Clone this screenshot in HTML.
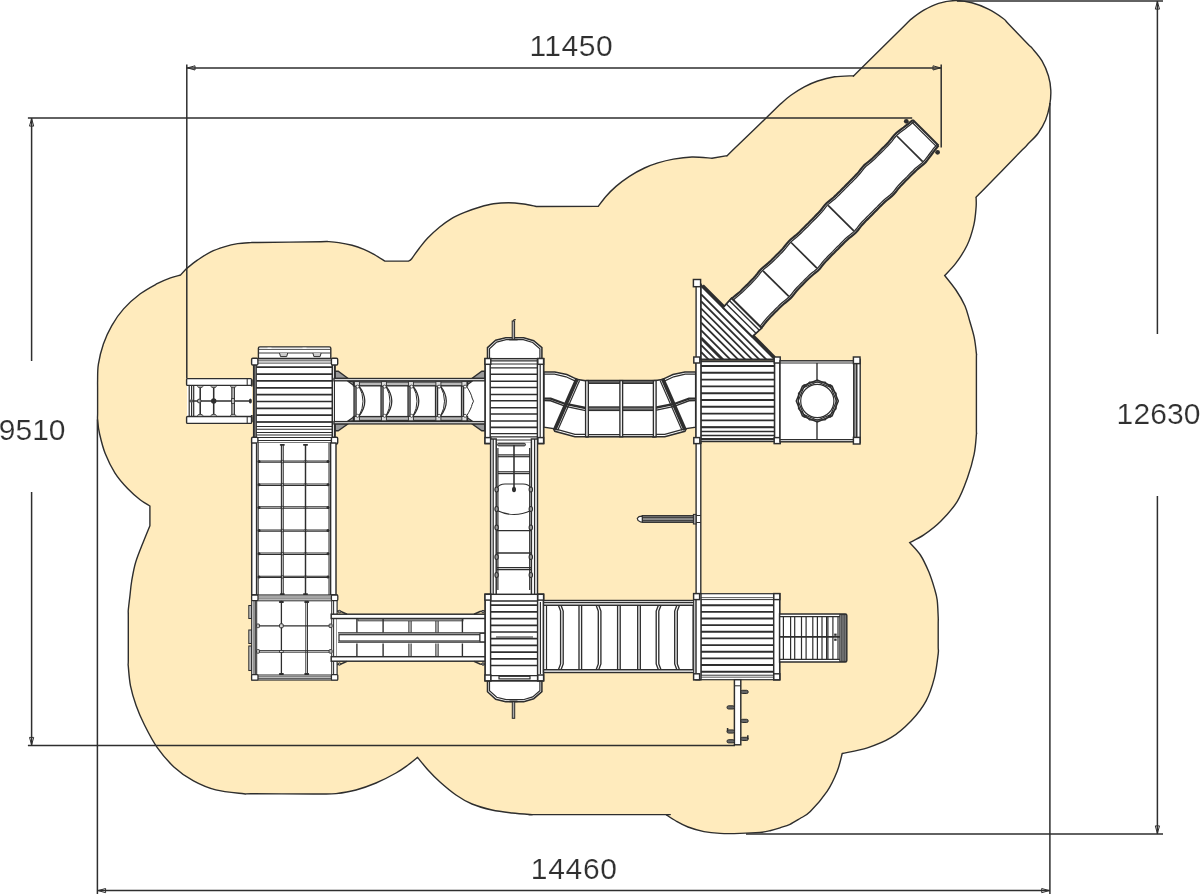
<!DOCTYPE html>
<html lang="en">
<head>
<meta charset="utf-8">
<title>Playground plan</title>
<style>
html,body{margin:0;padding:0;background:#fff;overflow:hidden;}
body{width:1200px;height:894px;overflow:hidden;position:relative;font-family:"Liberation Sans",sans-serif;}
svg{position:absolute;left:0;top:0;display:block;}
.dim{position:absolute;font-family:"Liberation Sans",sans-serif;font-size:30px;line-height:1;color:#2e2e2e;white-space:nowrap;-webkit-text-stroke:0.2px #fff;paint-order:fill stroke;opacity:0.99;transform:translateZ(0);}
</style>
</head>
<body>
<svg width="1200" height="894" viewBox="0 0 1200 894" shape-rendering="geometricPrecision">
<path d="M149.9 506.1C148.3 505 143.8 502.6 140.1 499.7C136.4 496.8 131.8 492.9 127.6 488.5C123.4 484.1 118.7 478.9 115 473.1C111.3 467.3 107.8 460 105.2 453.5C102.6 447 100.9 439.6 99.6 434C98.3 428.4 97.9 423.5 97.6 420C97.3 416.5 97.6 418.4 97.6 413C97.6 407.6 97.6 393.2 97.6 387.8C97.6 382.4 97.5 384.7 97.6 380.8C97.7 376.9 97.4 370.3 98.4 364.2C99.4 358.1 101.2 350.5 103.4 344.1C105.6 337.7 108.4 331.5 111.8 325.6C115.2 319.7 118.8 314.2 123.6 308.9C128.3 303.6 134.7 298 140.3 293.8C145.9 289.6 152.1 286.4 157.1 283.7C162.1 281 166.6 279.2 170.5 277.8C174.4 276.4 178.9 275.5 180.6 275L186.5 268.6C188.3 267.2 193.3 263 197.4 260.2C201.5 257.4 206.3 254 210.8 251.8C215.3 249.6 219.7 248.2 224.2 246.8C228.7 245.4 233.2 244.3 237.7 243.6C242.2 242.9 247.6 242.8 251 242.6C254.4 242.4 246.4 242.7 258 242.5C269.6 242.4 309.2 241.8 320.8 241.7C332.4 241.5 324.8 241.4 327.8 241.6C330.8 241.8 334.6 242 338.7 242.6C342.8 243.2 347.9 244.2 352.1 245.3C356.3 246.4 360.2 247.8 363.9 249.3C367.5 250.8 370.5 252.4 374 254.4C377.5 256.4 383.1 260 384.9 261.1L408.4 261.1C408.9 260.7 409.9 260.9 411.7 258.7C413.5 256.5 416.6 251.6 419.3 248.2C422 244.8 424.4 241.6 427.7 238.1C431 234.6 435.5 230.4 439.4 227.2C443.3 224 446.9 221.3 451.1 218.8C455.3 216.3 459.8 214.4 464.6 212.4C469.4 210.4 475.3 208.4 480.1 207C484.9 205.6 488.8 204.5 493.5 203.8C498.2 203.1 503.6 202.7 508.6 202.7C513.6 202.7 519.1 203.4 523.7 204C528.3 204.6 534.2 206.1 536.3 206.5L598.4 206.2C599.6 204.6 603 199.8 605.9 196.5C608.8 193.2 612.1 189.8 616 186.4C619.9 183 624.6 179.4 629.4 176.3C634.1 173.2 639.8 170.2 644.5 168C649.2 165.8 653.1 164.4 657.9 162.9C662.7 161.4 667.7 160.1 673.4 159.1C679.1 158.1 685.5 157.2 691.9 157C698.3 156.8 708.6 158 712 158.2L727.1 155.7C727.9 154.9 724 158.7 732.1 150.8C740.2 143 767.7 116.4 775.8 108.6C783.9 100.7 778.3 105.9 780.8 103.7C783.3 101.5 787 98.1 790.9 95.3C794.8 92.5 799.8 89.3 804.3 86.9C808.8 84.5 812.7 82.7 817.7 81C822.7 79.3 828.5 77.7 834.5 76.8C840.5 75.9 850.6 75.9 853.8 75.7C854.6 74.9 850.1 79.3 858.8 70.8C867.5 62.2 897.2 32.9 905.9 24.3C914.6 15.8 907.9 21.8 910.9 19.4C913.9 17 919.2 12.9 923.8 10.2C928.4 7.5 933.4 4.9 938.6 3.3C943.8 1.7 949.7 0.7 955.2 0.6C960.7 0.5 966.3 1.4 971.8 2.8C977.3 4.2 983.2 6.6 988.4 9.2C993.6 11.8 999.9 16.1 1003.2 18.5C1006.5 20.9 1004 19.3 1008.1 23.5C1012.2 27.8 1023.7 39.6 1027.8 43.9C1031.9 48.1 1030.3 46.1 1032.7 48.9C1035.1 51.7 1039.4 56.4 1042 60.9C1044.6 65.4 1046.9 70.8 1048.4 75.7C1049.9 80.6 1050.6 85.5 1050.8 90.4C1051 95.3 1050.6 100.3 1049.7 105.2C1048.8 110.1 1047.5 115.4 1045.6 120C1043.7 124.6 1041.3 128.9 1038.3 133C1035.3 137.1 1030.1 141.8 1027.5 144.6C1024.9 147.4 1030.4 141.7 1022.6 149.6C1014.9 157.5 988.7 184.3 981 192.2C973.2 200.1 976.9 196.4 976.1 197.2C976.1 198.9 976.5 202.5 976.1 207.2C975.7 211.8 975.3 218.8 973.8 225.1C972.3 231.4 970.1 239 967.1 245.3C964.1 251.7 959.6 258.2 955.9 263.2C952.2 268.2 946.6 273.4 944.7 275.5C946.6 277.9 952.5 285 955.9 290C959.3 295 962.6 300.7 964.9 305.7C967.1 310.7 967.9 314.8 969.4 320C970.9 325.2 972.9 331.3 974.1 336.9C975.3 342.5 976 349.7 976.4 353.7C976.8 357.7 976.4 348.4 976.4 360.7C976.4 372.9 976.4 414.9 976.4 427.2C976.4 439.4 976.8 429.7 976.4 434.2C976 438.7 975.6 447.1 974.1 454.4C972.6 461.7 970.2 470.1 967.4 477.9C964.6 485.7 961.8 494 957.3 501.3C952.8 508.6 946.1 515.9 940.5 521.5C934.9 527.1 928.9 531.4 923.8 534.9C918.7 538.4 912.1 541.3 909.7 542.6C911.5 544.7 917.2 550.1 920.4 555C923.6 559.9 926.4 566.2 928.8 571.8C931.1 577.4 933.1 583.9 934.5 588.6C935.9 593.3 936.6 595.4 937.2 600.1C937.8 604.8 938 612.9 938.2 616.9C938.4 620.9 938.2 618.9 938.2 623.9C938.2 628.9 938.2 641.8 938.2 646.8C938.2 651.8 938.8 648.7 938.2 653.8C937.6 658.9 936.5 669.5 934.5 677.3C932.5 685.1 930 693.5 926.1 700.8C922.2 708.1 916.9 714.8 911 720.9C905.1 727 898.2 733.2 890.9 737.7C883.6 742.2 875.5 745.2 867.4 747.8C859.3 750.4 846.4 752.5 842.2 753.5C841.4 756.5 839.7 765 837.2 771.3C834.7 777.6 831.6 784.7 827.1 791.4C822.6 798.1 814.8 807 810.3 811.5C805.8 816 803.4 816.4 800 818.5C796.6 820.6 793.3 822.8 790 824.3C786.7 825.8 783.3 826.7 780 827.8C776.7 828.9 773.3 829.9 770 830.7C766.7 831.5 765 832 760 832.4C755 832.8 746.7 833.2 740 833.4C733.3 833.6 726 833.7 720 833.4C714 833.1 709.3 832.7 704 831.6C698.7 830.5 692.7 828.8 688 827C683.3 825.2 679.7 823.1 676 821C672.3 818.9 667.7 815.7 666 814.6C664.8 814.6 680.2 814.6 659 814.6C637.8 814.6 560.2 814.6 539 814.6C517.8 814.6 536.5 814.9 532 814.6C527.5 814.3 518.7 813.8 512 813C505.3 812.2 498.7 811.5 492 810C485.3 808.5 478 806.5 472 804C466 801.5 461.3 798.7 456 795C450.7 791.3 444.7 786.2 440 782C435.3 777.8 431.7 774.1 428 770C424.3 765.9 419.3 759.5 417.6 757.4C416 758.7 411.6 762.4 408 765C404.4 767.6 401.3 770 396 773C390.7 776 382.7 780.2 376 783C369.3 785.8 362.7 788.2 356 790C349.3 791.8 342 792.9 336 793.6C330 794.3 323.8 793.9 320 794C316.2 794.1 324.5 794 313 794C301.5 794 262.3 793.8 250.8 793.8C239.3 793.8 249.6 794.5 243.8 793.8C238 793.1 224.2 792 215.8 789.9C207.4 787.8 200.5 784.7 193.5 780.9C186.5 777.1 180 772.5 173.9 766.9C167.8 761.3 162 754.4 157.1 747.4C152.2 740.4 148 732 144.5 725C141 718 138.4 711.9 136.1 705.4C133.8 698.9 131.8 692.3 130.5 685.8C129.2 679.3 128.7 670.7 128.3 666.3C127.9 661.9 128.3 667.5 128.3 659.3C128.3 651.1 128.3 625.2 128.3 617C128.3 608.8 128.1 613.3 128.3 610C128.6 606.7 129.2 601.8 129.8 597C130.4 592.2 130.7 586.8 131.7 581C132.7 575.2 133.7 568.8 135.6 562.5C137.5 556.2 140.5 549.1 142.9 543C145.3 536.9 148.7 528.6 149.9 525.7L149.9 506.1Z" fill="#FFEBBD" stroke="#2e2e2e" stroke-width="1.4" stroke-linejoin="miter"/>
<rect x="187" y="386" width="65" height="31" fill="#fff" stroke="#2e2e2e" stroke-width="0.0"/>
<rect x="186.6" y="378.6" width="65" height="6.8" rx="1" fill="#fff" stroke="#2e2e2e" stroke-width="1.4"/>
<rect x="186.6" y="416.5" width="65" height="6.9" rx="1" fill="#fff" stroke="#2e2e2e" stroke-width="1.4"/>
<line x1="247.2" y1="379" x2="247.2" y2="385" stroke="#2e2e2e" stroke-width="1.03"/>
<line x1="247.2" y1="417" x2="247.2" y2="423" stroke="#2e2e2e" stroke-width="1.03"/>
<line x1="189.2" y1="385.5" x2="189.2" y2="416.5" stroke="#2e2e2e" stroke-width="1.2"/>
<line x1="191.6" y1="385.5" x2="191.6" y2="416.5" stroke="#2e2e2e" stroke-width="1.2"/>
<line x1="193.7" y1="385.5" x2="193.7" y2="416.5" stroke="#2e2e2e" stroke-width="1.2"/>
<line x1="200.2" y1="385.5" x2="200.2" y2="416.5" stroke="#2e2e2e" stroke-width="1.55"/>
<line x1="213.7" y1="385.5" x2="213.7" y2="416.5" stroke="#2e2e2e" stroke-width="1.55"/>
<line x1="231.9" y1="385.5" x2="231.9" y2="416.5" stroke="#2e2e2e" stroke-width="1.29"/>
<line x1="234.3" y1="385.5" x2="234.3" y2="416.5" stroke="#2e2e2e" stroke-width="1.29"/>
<line x1="189" y1="401" x2="250" y2="401" stroke="#2e2e2e" stroke-width="1.46"/>
<circle cx="191.4" cy="401" r="1.8" fill="#555"/>
<circle cx="199.2" cy="401" r="1.9" fill="#aaa" stroke="#2e2e2e" stroke-width="0.9"/>
<circle cx="213.7" cy="401" r="2.7" fill="#2e2e2e"/>
<rect x="231.6" y="398.6" width="3" height="4.8" fill="#bbb" stroke="#2e2e2e" stroke-width="0.8"/>
<ellipse cx="250.4" cy="401" rx="1.5" ry="2.5" fill="#2e2e2e"/>
<ellipse cx="200.2" cy="386.6" rx="2.6" ry="1.1" fill="#bbb" stroke="#2e2e2e" stroke-width="0.8"/>
<ellipse cx="200.2" cy="415.4" rx="2.6" ry="1.1" fill="#bbb" stroke="#2e2e2e" stroke-width="0.8"/>
<ellipse cx="213.7" cy="386.6" rx="2.6" ry="1.1" fill="#bbb" stroke="#2e2e2e" stroke-width="0.8"/>
<ellipse cx="213.7" cy="415.4" rx="2.6" ry="1.1" fill="#bbb" stroke="#2e2e2e" stroke-width="0.8"/>
<ellipse cx="233.2" cy="386.6" rx="2.6" ry="1.1" fill="#bbb" stroke="#2e2e2e" stroke-width="0.8"/>
<ellipse cx="233.2" cy="415.4" rx="2.6" ry="1.1" fill="#bbb" stroke="#2e2e2e" stroke-width="0.8"/>
<line x1="251.8" y1="379.5" x2="251.8" y2="386.5" stroke="#2e2e2e" stroke-width="1.72"/>
<line x1="251.8" y1="415" x2="251.8" y2="422" stroke="#2e2e2e" stroke-width="1.72"/>
<path d="M258.4 358.5 V348.3 Q258.4 346.9 259.8 346.9 H329.4 Q330.8 346.9 330.8 348.3 V358.5 Z" fill="#fff" stroke="#2e2e2e" stroke-width="1.4"/>
<line x1="258.5" y1="349.4" x2="330.5" y2="349.4" stroke="#2e2e2e" stroke-width="0.86"/>
<line x1="258.5" y1="353" x2="330.5" y2="353" stroke="#2e2e2e" stroke-width="0.95"/>
<line x1="267.5" y1="348.3" x2="271.5" y2="348.3" stroke="#fff" stroke-width="1.2"/>
<line x1="302.5" y1="348.3" x2="306.5" y2="348.3" stroke="#fff" stroke-width="1.2"/>
<path d="M279.5 353 l1 3.6 h6.2 l1 -3.6" fill="#ccc" stroke="#2e2e2e" stroke-width="1.0"/>
<path d="M312.9 353 l1 3.6 h6.2 l1 -3.6" fill="#ccc" stroke="#2e2e2e" stroke-width="1.0"/>
<rect x="254" y="358.7" width="81" height="84.4" fill="#fff" stroke="#2e2e2e" stroke-width="1.46"/>
<line x1="253.7" y1="364" x2="253.7" y2="438" stroke="#2e2e2e" stroke-width="1.55"/>
<line x1="256.1" y1="364" x2="256.1" y2="438" stroke="#2e2e2e" stroke-width="1.55"/>
<line x1="332.3" y1="364" x2="332.3" y2="438" stroke="#2e2e2e" stroke-width="1.55"/>
<line x1="334.7" y1="364" x2="334.7" y2="438" stroke="#2e2e2e" stroke-width="1.55"/>
<line x1="257" y1="360.8" x2="332" y2="360.8" stroke="#2e2e2e" stroke-width="0.86"/>
<line x1="257" y1="363.1" x2="332" y2="363.1" stroke="#2e2e2e" stroke-width="0.86"/>
<line x1="256.3" y1="367.2" x2="332.3" y2="367.2" stroke="#2e2e2e" stroke-width="1.72"/>
<line x1="256.3" y1="374.1" x2="332.3" y2="374.1" stroke="#2e2e2e" stroke-width="1.72"/>
<line x1="256.3" y1="380.9" x2="332.3" y2="380.9" stroke="#2e2e2e" stroke-width="1.72"/>
<line x1="256.3" y1="387.8" x2="332.3" y2="387.8" stroke="#2e2e2e" stroke-width="1.72"/>
<line x1="256.3" y1="394.6" x2="332.3" y2="394.6" stroke="#2e2e2e" stroke-width="1.72"/>
<line x1="256.3" y1="401.5" x2="332.3" y2="401.5" stroke="#2e2e2e" stroke-width="1.72"/>
<line x1="256.3" y1="408.3" x2="332.3" y2="408.3" stroke="#2e2e2e" stroke-width="1.72"/>
<line x1="256.3" y1="415.2" x2="332.3" y2="415.2" stroke="#2e2e2e" stroke-width="1.72"/>
<line x1="256.3" y1="422" x2="332.3" y2="422" stroke="#2e2e2e" stroke-width="1.72"/>
<line x1="256.3" y1="422" x2="332.3" y2="422" stroke="#2e2e2e" stroke-width="1.03"/>
<line x1="256.3" y1="426.6" x2="332.3" y2="426.6" stroke="#2e2e2e" stroke-width="1.03"/>
<line x1="256.3" y1="429.2" x2="332.3" y2="429.2" stroke="#2e2e2e" stroke-width="1.03"/>
<line x1="256.3" y1="432.4" x2="332.3" y2="432.4" stroke="#2e2e2e" stroke-width="1.03"/>
<line x1="256.3" y1="435" x2="332.3" y2="435" stroke="#2e2e2e" stroke-width="1.03"/>
<line x1="256.3" y1="437.6" x2="332.3" y2="437.6" stroke="#2e2e2e" stroke-width="1.03"/>
<line x1="256.3" y1="440.6" x2="332.3" y2="440.6" stroke="#2e2e2e" stroke-width="1.03"/>
<rect x="251.6" y="358.2" width="6.3" height="6.8" rx="1.2" fill="#fff" stroke="#2e2e2e" stroke-width="1.4"/>
<rect x="331.4" y="358.2" width="6.3" height="6.8" rx="1.2" fill="#fff" stroke="#2e2e2e" stroke-width="1.4"/>
<rect x="251.6" y="437.2" width="6.3" height="6.8" rx="1.2" fill="#fff" stroke="#2e2e2e" stroke-width="1.4"/>
<rect x="331.4" y="437.2" width="6.3" height="6.8" rx="1.2" fill="#fff" stroke="#2e2e2e" stroke-width="1.4"/>
<rect x="335" y="379" width="150" height="44" fill="#fff" stroke="#2e2e2e" stroke-width="0.0"/>
<polygon points="335.2,371.3 338.2,371.3 348.2,378.5 335.2,378.5" fill="#9a9a9a" stroke="#2e2e2e" stroke-width="1.38" />
<polygon points="335.2,430.8 338.2,430.8 348.2,423.8 335.2,423.8" fill="#9a9a9a" stroke="#2e2e2e" stroke-width="1.38" />
<polygon points="347.2,380.8 354.2,385.8 354.2,381.9" fill="#9a9a9a" stroke="#2e2e2e" stroke-width="1.2" />
<polygon points="347.2,421.6 354.2,416.6 354.2,420.5" fill="#9a9a9a" stroke="#2e2e2e" stroke-width="1.2" />
<polygon points="484.8,371.3 481.8,371.3 471.8,378.5 484.8,378.5" fill="#9a9a9a" stroke="#2e2e2e" stroke-width="1.38" />
<polygon points="484.8,430.8 481.8,430.8 471.8,423.8 484.8,423.8" fill="#9a9a9a" stroke="#2e2e2e" stroke-width="1.38" />
<polygon points="472.8,380.8 465.8,385.8 465.8,381.9" fill="#9a9a9a" stroke="#2e2e2e" stroke-width="1.2" />
<polygon points="472.8,421.6 465.8,416.6 465.8,420.5" fill="#9a9a9a" stroke="#2e2e2e" stroke-width="1.2" />
<rect x="334" y="378.5" width="151.5" height="2.3" fill="#fff" stroke="#2e2e2e" stroke-width="1.38"/>
<rect x="334" y="421.6" width="151.5" height="2.3" fill="#fff" stroke="#2e2e2e" stroke-width="1.38"/>
<rect x="353.5" y="381.9" width="114" height="3.9" fill="#b8b8b8" stroke="#2e2e2e" stroke-width="1.38"/>
<rect x="353.5" y="416.6" width="114" height="3.9" fill="#b8b8b8" stroke="#2e2e2e" stroke-width="1.38"/>
<line x1="354.1" y1="385.8" x2="354.1" y2="416.6" stroke="#2e2e2e" stroke-width="1.46"/>
<line x1="356" y1="385.8" x2="356" y2="416.6" stroke="#2e2e2e" stroke-width="1.46"/>
<path d="M359 386.2 Q370.6 401.2 359 416.2" fill="none" stroke="#2e2e2e" stroke-width="1.25"/>
<path d="M359 386.2 Q367 401.2 359 416.2" fill="none" stroke="#2e2e2e" stroke-width="1.0"/>
<rect x="354.4" y="381.6" width="5" height="4.4" fill="#ddd" stroke="#2e2e2e" stroke-width="0.9"/>
<rect x="354.4" y="416.4" width="5" height="4.4" fill="#ddd" stroke="#2e2e2e" stroke-width="0.9"/>
<circle cx="357.6" cy="386.6" r="1.5" fill="#fff" stroke="#2e2e2e" stroke-width="0.8"/>
<circle cx="357.6" cy="415.8" r="1.5" fill="#fff" stroke="#2e2e2e" stroke-width="0.8"/>
<line x1="381.1" y1="385.8" x2="381.1" y2="416.6" stroke="#2e2e2e" stroke-width="1.46"/>
<line x1="383" y1="385.8" x2="383" y2="416.6" stroke="#2e2e2e" stroke-width="1.46"/>
<path d="M386 386.2 Q397.6 401.2 386 416.2" fill="none" stroke="#2e2e2e" stroke-width="1.25"/>
<path d="M386 386.2 Q394 401.2 386 416.2" fill="none" stroke="#2e2e2e" stroke-width="1.0"/>
<rect x="381.4" y="381.6" width="5" height="4.4" fill="#ddd" stroke="#2e2e2e" stroke-width="0.9"/>
<rect x="381.4" y="416.4" width="5" height="4.4" fill="#ddd" stroke="#2e2e2e" stroke-width="0.9"/>
<circle cx="384.6" cy="386.6" r="1.5" fill="#fff" stroke="#2e2e2e" stroke-width="0.8"/>
<circle cx="384.6" cy="415.8" r="1.5" fill="#fff" stroke="#2e2e2e" stroke-width="0.8"/>
<line x1="408.1" y1="385.8" x2="408.1" y2="416.6" stroke="#2e2e2e" stroke-width="1.46"/>
<line x1="410" y1="385.8" x2="410" y2="416.6" stroke="#2e2e2e" stroke-width="1.46"/>
<path d="M413 386.2 Q424.6 401.2 413 416.2" fill="none" stroke="#2e2e2e" stroke-width="1.25"/>
<path d="M413 386.2 Q421 401.2 413 416.2" fill="none" stroke="#2e2e2e" stroke-width="1.0"/>
<rect x="408.4" y="381.6" width="5" height="4.4" fill="#ddd" stroke="#2e2e2e" stroke-width="0.9"/>
<rect x="408.4" y="416.4" width="5" height="4.4" fill="#ddd" stroke="#2e2e2e" stroke-width="0.9"/>
<circle cx="411.6" cy="386.6" r="1.5" fill="#fff" stroke="#2e2e2e" stroke-width="0.8"/>
<circle cx="411.6" cy="415.8" r="1.5" fill="#fff" stroke="#2e2e2e" stroke-width="0.8"/>
<line x1="435.6" y1="385.8" x2="435.6" y2="416.6" stroke="#2e2e2e" stroke-width="1.46"/>
<line x1="437.5" y1="385.8" x2="437.5" y2="416.6" stroke="#2e2e2e" stroke-width="1.46"/>
<path d="M440.5 386.2 Q452.1 401.2 440.5 416.2" fill="none" stroke="#2e2e2e" stroke-width="1.25"/>
<path d="M440.5 386.2 Q448.5 401.2 440.5 416.2" fill="none" stroke="#2e2e2e" stroke-width="1.0"/>
<rect x="435.9" y="381.6" width="5" height="4.4" fill="#ddd" stroke="#2e2e2e" stroke-width="0.9"/>
<rect x="435.9" y="416.4" width="5" height="4.4" fill="#ddd" stroke="#2e2e2e" stroke-width="0.9"/>
<circle cx="439.1" cy="386.6" r="1.5" fill="#fff" stroke="#2e2e2e" stroke-width="0.8"/>
<circle cx="439.1" cy="415.8" r="1.5" fill="#fff" stroke="#2e2e2e" stroke-width="0.8"/>
<line x1="461.6" y1="385.8" x2="461.6" y2="416.6" stroke="#2e2e2e" stroke-width="1.46"/>
<line x1="463.5" y1="385.8" x2="463.5" y2="416.6" stroke="#2e2e2e" stroke-width="1.46"/>
<path d="M466.5 386.2 Q471.5 394 472.1 398 L473.5 401.2 L472.1 404.4 Q471.5 408 466.5 416.2" fill="none" stroke="#2e2e2e" stroke-width="1.0"/>
<rect x="461.9" y="381.6" width="5" height="4.4" fill="#ddd" stroke="#2e2e2e" stroke-width="0.9"/>
<rect x="461.9" y="416.4" width="5" height="4.4" fill="#ddd" stroke="#2e2e2e" stroke-width="0.9"/>
<circle cx="465.1" cy="386.6" r="1.5" fill="#fff" stroke="#2e2e2e" stroke-width="0.8"/>
<circle cx="465.1" cy="415.8" r="1.5" fill="#fff" stroke="#2e2e2e" stroke-width="0.8"/>
<polygon points="487.5,358.7 487.5,347.7 495.7,340.2 505.7,337.7 523.7,337.7 533.7,340.7 541.9,347.7 541.9,358.7" fill="#fff" stroke="#2e2e2e" stroke-width="1.55" />
<polyline points="489.5,358.7 489.5,348.7 496.7,342.1 506.1,339.7 523.3,339.7 532.7,342.5 539.9,348.7 539.9,358.7" fill="none" stroke="#2e2e2e" stroke-width="1.2" />
<rect x="512.2" y="321" width="2.4" height="18.5" fill="#aaa" stroke="#2e2e2e" stroke-width="1.03"/>
<path d="M513.4 321 q0.3 -1.8 2.4 -1.2" fill="none" stroke="#2e2e2e" stroke-width="1.1"/>
<line x1="509.2" y1="339.6" x2="517.6" y2="339.6" stroke="#2e2e2e" stroke-width="1.55"/>
<rect x="485.2" y="358.7" width="58.4" height="84.8" fill="#fff" stroke="#2e2e2e" stroke-width="1.46"/>
<line x1="490.3" y1="360.9" x2="537.3" y2="360.9" stroke="#2e2e2e" stroke-width="1.2"/>
<line x1="490.3" y1="364" x2="537.3" y2="364" stroke="#2e2e2e" stroke-width="1.2"/>
<line x1="490.3" y1="367.9" x2="537.3" y2="367.9" stroke="#2e2e2e" stroke-width="1.2"/>
<line x1="490.3" y1="374.2" x2="537.3" y2="374.2" stroke="#2e2e2e" stroke-width="1.63"/>
<line x1="490.3" y1="381.2" x2="537.3" y2="381.2" stroke="#2e2e2e" stroke-width="1.63"/>
<line x1="490.3" y1="387.5" x2="537.3" y2="387.5" stroke="#2e2e2e" stroke-width="1.63"/>
<line x1="490.3" y1="394.5" x2="537.3" y2="394.5" stroke="#2e2e2e" stroke-width="1.63"/>
<line x1="490.3" y1="400.8" x2="537.3" y2="400.8" stroke="#2e2e2e" stroke-width="1.63"/>
<line x1="490.3" y1="407.8" x2="537.3" y2="407.8" stroke="#2e2e2e" stroke-width="1.63"/>
<line x1="490.3" y1="414" x2="537.3" y2="414" stroke="#2e2e2e" stroke-width="1.63"/>
<line x1="490.3" y1="421" x2="537.3" y2="421" stroke="#2e2e2e" stroke-width="1.63"/>
<line x1="490.3" y1="427.4" x2="537.3" y2="427.4" stroke="#2e2e2e" stroke-width="1.63"/>
<line x1="490.3" y1="433.6" x2="537.3" y2="433.6" stroke="#2e2e2e" stroke-width="1.2"/>
<line x1="490.3" y1="436.8" x2="537.3" y2="436.8" stroke="#2e2e2e" stroke-width="1.2"/>
<line x1="490.3" y1="440" x2="537.3" y2="440" stroke="#2e2e2e" stroke-width="1.2"/>
<rect x="485.2" y="358.7" width="5" height="84.8" fill="#fff" stroke="#2e2e2e" stroke-width="1.46"/>
<rect x="537.4" y="358.7" width="6.2" height="84.8" fill="#fff" stroke="#2e2e2e" stroke-width="1.46"/>
<line x1="540.2" y1="365" x2="540.2" y2="437.5" stroke="#2e2e2e" stroke-width="1.2"/>
<rect x="485" y="358.5" width="5.8" height="5.8" fill="#fff" stroke="#2e2e2e" stroke-width="1.46"/>
<rect x="537.8" y="358.5" width="5.8" height="5.8" fill="#fff" stroke="#2e2e2e" stroke-width="1.46"/>
<rect x="485" y="437.6" width="5.8" height="5.8" fill="#fff" stroke="#2e2e2e" stroke-width="1.46"/>
<rect x="537.8" y="437.6" width="5.8" height="5.8" fill="#fff" stroke="#2e2e2e" stroke-width="1.46"/>
<polygon points="544,372 554.8,372 566.8,374.6 577.6,379.6 586.9,381 586.9,436.7 574.9,436.7 554.8,431.3 553.4,428.6 544,427.2" fill="#fff" stroke="#2e2e2e" stroke-width="1.55" />
<polyline points="544,374.2 554.5,374.2 566,376.8 576.5,381.6" fill="none" stroke="#2e2e2e" stroke-width="1.2" />
<polyline points="544,398.6 550.7,398.6 565.5,404 585.6,408" fill="none" stroke="#2e2e2e" stroke-width="2.32" />
<polyline points="544,400.6 550.7,400.8 565.5,406.4 585.6,410.6" fill="none" stroke="#2e2e2e" stroke-width="1.38" />
<polyline points="556,429.2 575,434.4 585.6,434.4" fill="none" stroke="#2e2e2e" stroke-width="1.2" />
<line x1="577.2" y1="378.6" x2="554.6" y2="430" stroke="#2e2e2e" stroke-width="3.78"/>
<line x1="579.6" y1="380.4" x2="557.6" y2="430.6" stroke="#2e2e2e" stroke-width="1.2"/>
<polygon points="695.7,372 684.9,372 672.9,374.6 662.1,379.6 652.8,381 652.8,436.7 664.8,436.7 684.9,431.3 686.3,428.6 695.7,427.2" fill="#fff" stroke="#2e2e2e" stroke-width="1.55" />
<polyline points="695.7,374.2 685.2,374.2 673.7,376.8 663.2,381.6" fill="none" stroke="#2e2e2e" stroke-width="1.2" />
<polyline points="695.7,398.6 689,398.6 674.2,404 654.1,408" fill="none" stroke="#2e2e2e" stroke-width="2.32" />
<polyline points="695.7,400.6 689,400.8 674.2,406.4 654.1,410.6" fill="none" stroke="#2e2e2e" stroke-width="1.38" />
<polyline points="683.7,429.2 664.7,434.4 654.1,434.4" fill="none" stroke="#2e2e2e" stroke-width="1.2" />
<line x1="662.5" y1="378.6" x2="685.1" y2="430" stroke="#2e2e2e" stroke-width="3.78"/>
<line x1="660.1" y1="380.4" x2="682.1" y2="430.6" stroke="#2e2e2e" stroke-width="1.2"/>
<rect x="586.9" y="380.6" width="67.8" height="56.2" fill="#fff" stroke="#2e2e2e" stroke-width="1.55"/>
<line x1="586.9" y1="383" x2="654.7" y2="383" stroke="#2e2e2e" stroke-width="1.38"/>
<rect x="586.9" y="407" width="67.8" height="3.4" fill="#777" stroke="#2e2e2e" stroke-width="1.38"/>
<rect x="586.9" y="380.6" width="67.8" height="2.6" fill="#777" stroke="#2e2e2e" stroke-width="1.38"/>
<line x1="586.9" y1="434.6" x2="654.7" y2="434.6" stroke="#2e2e2e" stroke-width="1.2"/>
<rect x="585.6" y="380.6" width="2.7" height="56.2" fill="#fff" stroke="#2e2e2e" stroke-width="1.38"/>
<rect x="619.9" y="380.6" width="2.7" height="56.2" fill="#fff" stroke="#2e2e2e" stroke-width="1.38"/>
<rect x="653.4" y="380.6" width="2.7" height="56.2" fill="#fff" stroke="#2e2e2e" stroke-width="1.38"/>
<rect x="696.1" y="284" width="4.7" height="316" fill="#fff" stroke="#2e2e2e" stroke-width="1.38"/>
<polygon points="701,284.9 774.6,358.5 774.6,359.3 701,359.3" fill="#fff" stroke="#2e2e2e" stroke-width="1.55" />
<clipPath id="tri"><polygon points="701,284.9 775.4,359.3 701,359.3"/></clipPath>
<g clip-path="url(#tri)">
<line x1="701" y1="294.2" x2="781" y2="374.2" stroke="#2e2e2e" stroke-width="1.81"/>
<line x1="701" y1="301.2" x2="781" y2="381.2" stroke="#2e2e2e" stroke-width="1.81"/>
<line x1="701" y1="308.3" x2="781" y2="388.3" stroke="#2e2e2e" stroke-width="1.81"/>
<line x1="701" y1="315.3" x2="781" y2="395.3" stroke="#2e2e2e" stroke-width="1.81"/>
<line x1="701" y1="322.4" x2="781" y2="402.4" stroke="#2e2e2e" stroke-width="1.81"/>
<line x1="701" y1="330.2" x2="781" y2="410.2" stroke="#2e2e2e" stroke-width="1.81"/>
<line x1="701" y1="338" x2="781" y2="418" stroke="#2e2e2e" stroke-width="2.92"/>
<line x1="701" y1="345" x2="781" y2="425" stroke="#2e2e2e" stroke-width="1.81"/>
<line x1="701" y1="352" x2="781" y2="432" stroke="#2e2e2e" stroke-width="1.81"/>
</g>
<line x1="703" y1="285.2" x2="775" y2="357.2" stroke="#2e2e2e" stroke-width="2.24"/>
<line x1="701.4" y1="286.4" x2="774" y2="359" stroke="#2e2e2e" stroke-width="1.38"/>
<rect x="693.4" y="279.5" width="7.2" height="7.2" fill="#fff" stroke="#2e2e2e" stroke-width="1.46"/>
<polygon points="723.7,308.3 725.7,306.1 727.6,303.7 729.5,301.3 731.4,299 733.6,297 735.9,295.1 738.3,293.2 740.6,291.2 742.7,289.1 744.8,287 747,284.9 749.1,282.8 751.2,280.6 753.3,278.5 755.3,276.2 757.2,273.9 759,271.5 761,269.2 763.2,267.2 765.6,265.3 767.9,263.4 770.2,261.4 772.3,259.3 774.4,257.2 776.5,255.1 778.7,252.9 780.8,250.8 782.8,248.6 784.7,246.3 786.6,243.9 788.5,241.6 790.6,239.5 793,237.6 795.3,235.7 797.6,233.7 799.8,231.7 801.9,229.5 804,227.4 806.1,225.3 808.3,223.2 810.4,221 812.5,218.9 814.6,216.8 816.7,214.6 818.8,212.5 820.8,210.2 822.6,207.8 824.5,205.4 826.5,203.2 828.8,201.3 831.2,199.4 833.5,197.5 835.7,195.4 837.8,193.3 840,191.2 842.1,189.1 844.2,187 846.3,184.8 848.4,182.7 850.5,180.6 852.6,178.4 854.7,176.3 856.8,174.1 858.8,171.9 860.6,169.5 862.5,167.1 864.6,164.9 866.9,163 869.3,161.1 871.6,159.2 873.8,157.1 875.9,155 878,152.9 880.1,150.8 882.2,148.6 884.4,146.5 886.4,144.4 888.5,142.2 890.4,139.9 892.3,137.5 894.2,135.1 896.3,133 898.7,131.1 901,129.3 903.5,127.5 905.9,125.6 908.3,123.8 910.6,121.9 912.9,120 938.5,145.5 936.7,147.8 934.8,150.1 933,152.5 931.2,155 929.4,157.4 927.5,159.8 925.7,162.2 923.6,164.3 921.2,166.2 918.8,168.1 916.6,170 914.4,172.1 912.2,174.2 910.1,176.3 908,178.5 905.9,180.6 903.8,182.7 901.7,184.9 899.7,187.1 897.7,189.4 895.9,191.8 894,194.1 891.8,196.2 889.5,198.1 887.1,200 884.8,201.9 882.7,204 880.5,206.1 878.4,208.3 876.3,210.4 874.2,212.5 872.1,214.7 870,216.8 867.9,218.9 865.7,221 863.7,223.2 861.6,225.4 859.7,227.8 857.9,230.2 855.9,232.5 853.7,234.5 851.4,236.4 849,238.2 846.8,240.2 844.6,242.3 842.5,244.5 840.4,246.6 838.3,248.7 836.1,250.8 834,253 831.9,255.1 829.8,257.2 827.7,259.4 825.6,261.6 823.7,263.8 821.8,266.2 820,268.6 817.9,270.8 815.5,272.7 813.2,274.5 810.9,276.5 808.7,278.5 806.6,280.6 804.4,282.8 802.3,284.9 800.2,287 798.1,289.2 796.1,291.5 794.3,293.8 792.4,296.2 790.4,298.4 788.1,300.4 785.8,302.3 783.4,304.2 781.2,306.2 779.1,308.3 777,310.4 774.8,312.6 772.7,314.7 770.6,316.8 768.6,319 766.6,321.3 764.7,323.7 762.9,326 760.8,328.2 758.5,330.2 756.1,332 753.8,334 751.6,336" fill="#fff" stroke="#2e2e2e" stroke-width="0.86" />
<polyline points="723.7,308.3 725.7,306.1 727.6,303.7 729.5,301.3 731.4,299 733.6,297 735.9,295.1 738.3,293.2 740.6,291.2 742.7,289.1 744.8,287 747,284.9 749.1,282.8 751.2,280.6 753.3,278.5 755.3,276.2 757.2,273.9 759,271.5 761,269.2 763.2,267.2 765.6,265.3 767.9,263.4 770.2,261.4 772.3,259.3 774.4,257.2 776.5,255.1 778.7,252.9 780.8,250.8 782.8,248.6 784.7,246.3 786.6,243.9 788.5,241.6 790.6,239.5 793,237.6 795.3,235.7 797.6,233.7 799.8,231.7 801.9,229.5 804,227.4 806.1,225.3 808.3,223.2 810.4,221 812.5,218.9 814.6,216.8 816.7,214.6 818.8,212.5 820.8,210.2 822.6,207.8 824.5,205.4 826.5,203.2 828.8,201.3 831.2,199.4 833.5,197.5 835.7,195.4 837.8,193.3 840,191.2 842.1,189.1 844.2,187 846.3,184.8 848.4,182.7 850.5,180.6 852.6,178.4 854.7,176.3 856.8,174.1 858.8,171.9 860.6,169.5 862.5,167.1 864.6,164.9 866.9,163 869.3,161.1 871.6,159.2 873.8,157.1 875.9,155 878,152.9 880.1,150.8 882.2,148.6 884.4,146.5 886.4,144.4 888.5,142.2 890.4,139.9 892.3,137.5 894.2,135.1 896.3,133 898.7,131.1 901,129.3 903.5,127.5 905.9,125.6 908.3,123.8 910.6,121.9 912.9,120" fill="none" stroke="#2e2e2e" stroke-width="2.15" />
<polyline points="751.6,336 753.8,334 756.1,332 758.5,330.2 760.8,328.2 762.9,326 764.7,323.7 766.6,321.3 768.6,319 770.6,316.8 772.7,314.7 774.8,312.6 777,310.4 779.1,308.3 781.2,306.2 783.4,304.2 785.8,302.3 788.1,300.4 790.4,298.4 792.4,296.2 794.3,293.8 796.1,291.5 798.1,289.2 800.2,287 802.3,284.9 804.4,282.8 806.6,280.6 808.7,278.5 810.9,276.5 813.2,274.5 815.5,272.7 817.9,270.8 820,268.6 821.8,266.2 823.7,263.8 825.6,261.6 827.7,259.4 829.8,257.2 831.9,255.1 834,253 836.1,250.8 838.3,248.7 840.4,246.6 842.5,244.5 844.6,242.3 846.8,240.2 849,238.2 851.4,236.4 853.7,234.5 855.9,232.5 857.9,230.2 859.7,227.8 861.6,225.4 863.7,223.2 865.7,221 867.9,218.9 870,216.8 872.1,214.7 874.2,212.5 876.3,210.4 878.4,208.3 880.5,206.1 882.7,204 884.8,201.9 887.1,200 889.5,198.1 891.8,196.2 894,194.1 895.9,191.8 897.7,189.4 899.7,187.1 901.7,184.9 903.8,182.7 905.9,180.6 908,178.5 910.1,176.3 912.2,174.2 914.4,172.1 916.6,170 918.8,168.1 921.2,166.2 923.6,164.3 925.7,162.2 927.5,159.8 929.4,157.4 931.2,155 933,152.5 934.8,150.1 936.7,147.8 938.5,145.5" fill="none" stroke="#2e2e2e" stroke-width="2.15" />
<polyline points="725.1,309.7 727.1,307.5 729,305.1 730.9,302.7 732.8,300.4 735,298.4 737.4,296.5 739.7,294.6 742,292.6 744.1,290.5 746.3,288.4 748.4,286.3 750.5,284.2 752.6,282 754.7,279.9 756.7,277.6 758.6,275.3 760.4,272.9 762.4,270.6 764.6,268.6 767,266.7 769.3,264.8 771.6,262.8 773.7,260.7 775.9,258.6 778,256.5 780.1,254.4 782.2,252.2 784.2,250 786.2,247.7 788,245.3 789.9,243 792,240.9 794.4,239 796.8,237.1 799,235.1 801.2,233.1 803.3,230.9 805.4,228.8 807.6,226.7 809.7,224.6 811.8,222.4 813.9,220.3 816,218.2 818.1,216 820.2,213.9 822.2,211.6 824.1,209.3 825.9,206.9 827.9,204.6 830.2,202.7 832.6,200.8 834.9,198.9 837.1,196.9 839.3,194.8 841.4,192.6 843.5,190.5 845.6,188.4 847.7,186.2 849.8,184.1 852,182 854.1,179.9 856.2,177.7 858.2,175.5 860.2,173.3 862.1,170.9 863.9,168.5 866,166.3 868.3,164.4 870.7,162.5 873,160.6 875.2,158.5 877.3,156.4 879.4,154.3 881.5,152.2 883.7,150.1 885.8,147.9 887.9,145.8 889.9,143.6 891.9,141.3 893.7,138.9 895.6,136.5 897.7,134.4 900.1,132.5 902.5,130.7 904.9,128.9 907.3,127 909.7,125.2 912,123.3 914.3,121.5" fill="none" stroke="#2e2e2e" stroke-width="1.29" />
<polyline points="750.2,334.6 752.4,332.6 754.7,330.6 757.1,328.8 759.4,326.8 761.4,324.6 763.3,322.2 765.2,319.9 767.1,317.6 769.2,315.4 771.3,313.3 773.4,311.2 775.5,309 777.7,306.9 779.8,304.8 782,302.8 784.3,300.9 786.7,299 789,297 791,294.8 792.8,292.4 794.7,290 796.7,287.8 798.8,285.6 800.9,283.5 803,281.4 805.1,279.2 807.3,277.1 809.4,275.1 811.7,273.1 814.1,271.3 816.5,269.3 818.5,267.2 820.4,264.8 822.3,262.4 824.2,260.1 826.3,258 828.4,255.8 830.5,253.7 832.6,251.6 834.7,249.4 836.8,247.3 839,245.2 841.1,243 843.2,240.9 845.3,238.8 847.6,236.8 849.9,234.9 852.3,233.1 854.5,231 856.5,228.8 858.3,226.4 860.2,224 862.2,221.8 864.3,219.6 866.4,217.5 868.5,215.4 870.7,213.2 872.8,211.1 874.9,209 877,206.9 879.1,204.7 881.2,202.6 883.4,200.5 885.7,198.6 888,196.7 890.4,194.8 892.6,192.7 894.5,190.4 896.3,188 898.2,185.7 900.3,183.5 902.4,181.3 904.5,179.2 906.6,177.1 908.7,174.9 910.8,172.8 913,170.7 915.1,168.6 917.4,166.7 919.8,164.8 922.1,162.9 924.2,160.8 926.1,158.4 928,156 929.8,153.5 931.6,151.1 933.4,148.7 935.3,146.4 937.1,144.1" fill="none" stroke="#2e2e2e" stroke-width="1.29" />
<polyline points="763,270.8 788.8,296.4" fill="none" stroke="#2e2e2e" stroke-width="1.72" />
<polyline points="791.1,242.5 816.9,268.1" fill="none" stroke="#2e2e2e" stroke-width="1.72" />
<polyline points="828.1,205.3 853.8,230.9" fill="none" stroke="#2e2e2e" stroke-width="1.72" />
<polyline points="896.9,136 922.7,161.6" fill="none" stroke="#2e2e2e" stroke-width="1.72" />
<polyline points="912.9,120 938.5,145.5" fill="none" stroke="#2e2e2e" stroke-width="2.06" />
<polyline points="911.8,122 936.5,146.6" fill="none" stroke="#2e2e2e" stroke-width="1.2" />
<polygon points="723,307.6 731.5,298.2 761.7,328.1 752.3,336.7" fill="#fff" stroke="#2e2e2e" stroke-width="1.72" />
<polyline points="726.4,303.9 756,333.3" fill="none" stroke="#2e2e2e" stroke-width="1.38" />
<polyline points="729.3,300.5 759.3,330.3" fill="none" stroke="#2e2e2e" stroke-width="1.38" />
<polyline points="731.5,298.2 761.7,328.1" fill="none" stroke="#2e2e2e" stroke-width="1.89" />
<circle cx="906.3" cy="121.3" r="2.4" fill="#2e2e2e"/>
<circle cx="937.6" cy="152.3" r="2.4" fill="#2e2e2e"/>
<rect x="698" y="361" width="80" height="80.5" fill="#fff" stroke="#2e2e2e" stroke-width="1.46"/>
<rect x="700.9" y="361.5" width="73.7" height="78" fill="#fff" stroke="#2e2e2e" stroke-width="1.46"/>
<line x1="700.9" y1="366" x2="774.6" y2="366" stroke="#2e2e2e" stroke-width="1.89"/>
<line x1="700.9" y1="372.8" x2="774.6" y2="372.8" stroke="#2e2e2e" stroke-width="1.89"/>
<line x1="700.9" y1="379.6" x2="774.6" y2="379.6" stroke="#2e2e2e" stroke-width="1.89"/>
<line x1="700.9" y1="386.4" x2="774.6" y2="386.4" stroke="#2e2e2e" stroke-width="1.89"/>
<line x1="700.9" y1="393.2" x2="774.6" y2="393.2" stroke="#2e2e2e" stroke-width="1.89"/>
<line x1="700.9" y1="400" x2="774.6" y2="400" stroke="#2e2e2e" stroke-width="1.89"/>
<line x1="700.9" y1="406.8" x2="774.6" y2="406.8" stroke="#2e2e2e" stroke-width="1.89"/>
<line x1="700.9" y1="413.6" x2="774.6" y2="413.6" stroke="#2e2e2e" stroke-width="1.89"/>
<line x1="700.9" y1="420.4" x2="774.6" y2="420.4" stroke="#2e2e2e" stroke-width="1.89"/>
<line x1="700.9" y1="427.2" x2="774.6" y2="427.2" stroke="#2e2e2e" stroke-width="1.89"/>
<line x1="700.9" y1="427" x2="772" y2="427" stroke="#2e2e2e" stroke-width="1.2"/>
<line x1="700.9" y1="431.5" x2="774.6" y2="431.5" stroke="#2e2e2e" stroke-width="1.55"/>
<line x1="700.9" y1="435.5" x2="774.6" y2="435.5" stroke="#2e2e2e" stroke-width="1.55"/>
<line x1="700.9" y1="438.5" x2="774.6" y2="438.5" stroke="#2e2e2e" stroke-width="1.2"/>
<rect x="696" y="359.3" width="4.9" height="84" fill="#fff" stroke="#2e2e2e" stroke-width="1.46"/>
<rect x="774.6" y="359.3" width="5.4" height="84" fill="#fff" stroke="#2e2e2e" stroke-width="1.46"/>
<rect x="693.8" y="357" width="6" height="6" fill="#fff" stroke="#2e2e2e" stroke-width="1.46"/>
<rect x="774.2" y="357" width="6" height="6" fill="#fff" stroke="#2e2e2e" stroke-width="1.46"/>
<rect x="693.8" y="437.6" width="6" height="6" fill="#fff" stroke="#2e2e2e" stroke-width="1.46"/>
<rect x="774.2" y="437.6" width="6" height="6" fill="#fff" stroke="#2e2e2e" stroke-width="1.46"/>
<rect x="780" y="360.8" width="74" height="81" fill="#fff" stroke="#2e2e2e" stroke-width="1.46"/>
<line x1="780" y1="363" x2="854" y2="363" stroke="#2e2e2e" stroke-width="1.2"/>
<line x1="780" y1="439.6" x2="854" y2="439.6" stroke="#2e2e2e" stroke-width="1.2"/>
<line x1="817" y1="363" x2="817" y2="439.6" stroke="#2e2e2e" stroke-width="1.38"/>
<rect x="853.8" y="359.3" width="3" height="83.5" fill="#999" stroke="#2e2e2e" stroke-width="1.38"/>
<rect x="856.8" y="359.3" width="3.4" height="83.5" fill="#fff" stroke="#2e2e2e" stroke-width="1.38"/>
<rect x="853.4" y="357" width="6.6" height="6.6" fill="#fff" stroke="#2e2e2e" stroke-width="1.46"/>
<rect x="853.4" y="437.4" width="6.6" height="6.6" fill="#fff" stroke="#2e2e2e" stroke-width="1.46"/>
<polygon points="838.3,401 832.1,415.8 817.3,422 802.5,415.8 796.3,401 802.5,386.2 817.3,380 832.1,386.2" fill="#fff" stroke="#2e2e2e" stroke-width="1.55" />
<polygon points="836.5,401 830.9,414.6 817.3,420.2 803.7,414.6 798.1,401 803.7,387.4 817.3,381.8 830.9,387.4" fill="none" stroke="#2e2e2e" stroke-width="1.2" />
<polygon points="836.1,408.8 825.1,419.8 809.5,419.8 798.5,408.8 798.5,393.2 809.5,382.2 825.1,382.2 836.1,393.2" fill="none" stroke="#2e2e2e" stroke-width="1.2" />
<circle cx="817.3" cy="401" r="16.6" fill="#fff" stroke="#2e2e2e" stroke-width="1.2"/>
<circle cx="830.2" cy="385.7" r="1.4" fill="#2e2e2e"/>
<circle cx="830.2" cy="416.3" r="1.4" fill="#2e2e2e"/>
<circle cx="804.4" cy="416.3" r="1.4" fill="#2e2e2e"/>
<circle cx="804.4" cy="385.7" r="1.4" fill="#2e2e2e"/>
<rect x="254" y="443" width="80" height="152" fill="#fff" stroke="#2e2e2e" stroke-width="0.0"/>
<rect x="251.7" y="443" width="4.9" height="152" fill="#fff" stroke="#2e2e2e" stroke-width="1.46"/>
<rect x="330.6" y="443" width="5.4" height="152" fill="#fff" stroke="#2e2e2e" stroke-width="1.46"/>
<line x1="258.2" y1="443" x2="258.2" y2="595" stroke="#2e2e2e" stroke-width="1.03"/>
<line x1="329" y1="443" x2="329" y2="595" stroke="#2e2e2e" stroke-width="1.03"/>
<line x1="258" y1="460.9" x2="329" y2="460.9" stroke="#2e2e2e" stroke-width="1.03"/>
<line x1="258" y1="462.3" x2="329" y2="462.3" stroke="#2e2e2e" stroke-width="1.03"/>
<circle cx="259" cy="461.6" r="1.5" fill="#2e2e2e"/>
<circle cx="328" cy="461.6" r="1.5" fill="#2e2e2e"/>
<circle cx="282.3" cy="461.6" r="1.3" fill="#fff" stroke="#2e2e2e" stroke-width="0.7"/>
<circle cx="305.5" cy="461.6" r="1.3" fill="#fff" stroke="#2e2e2e" stroke-width="0.7"/>
<line x1="258" y1="484" x2="329" y2="484" stroke="#2e2e2e" stroke-width="1.03"/>
<line x1="258" y1="485.4" x2="329" y2="485.4" stroke="#2e2e2e" stroke-width="1.03"/>
<circle cx="259" cy="484.7" r="1.5" fill="#2e2e2e"/>
<circle cx="328" cy="484.7" r="1.5" fill="#2e2e2e"/>
<circle cx="282.3" cy="484.7" r="1.3" fill="#fff" stroke="#2e2e2e" stroke-width="0.7"/>
<circle cx="305.5" cy="484.7" r="1.3" fill="#fff" stroke="#2e2e2e" stroke-width="0.7"/>
<line x1="258" y1="506.8" x2="329" y2="506.8" stroke="#2e2e2e" stroke-width="1.03"/>
<line x1="258" y1="508.2" x2="329" y2="508.2" stroke="#2e2e2e" stroke-width="1.03"/>
<circle cx="259" cy="507.5" r="1.5" fill="#2e2e2e"/>
<circle cx="328" cy="507.5" r="1.5" fill="#2e2e2e"/>
<circle cx="282.3" cy="507.5" r="1.3" fill="#fff" stroke="#2e2e2e" stroke-width="0.7"/>
<circle cx="305.5" cy="507.5" r="1.3" fill="#fff" stroke="#2e2e2e" stroke-width="0.7"/>
<line x1="258" y1="529.9" x2="329" y2="529.9" stroke="#2e2e2e" stroke-width="1.03"/>
<line x1="258" y1="531.3" x2="329" y2="531.3" stroke="#2e2e2e" stroke-width="1.03"/>
<circle cx="259" cy="530.6" r="1.5" fill="#2e2e2e"/>
<circle cx="328" cy="530.6" r="1.5" fill="#2e2e2e"/>
<circle cx="282.3" cy="530.6" r="1.3" fill="#fff" stroke="#2e2e2e" stroke-width="0.7"/>
<circle cx="305.5" cy="530.6" r="1.3" fill="#fff" stroke="#2e2e2e" stroke-width="0.7"/>
<line x1="258" y1="553" x2="329" y2="553" stroke="#2e2e2e" stroke-width="1.03"/>
<line x1="258" y1="554.4" x2="329" y2="554.4" stroke="#2e2e2e" stroke-width="1.03"/>
<circle cx="259" cy="553.7" r="1.5" fill="#2e2e2e"/>
<circle cx="328" cy="553.7" r="1.5" fill="#2e2e2e"/>
<circle cx="282.3" cy="553.7" r="1.3" fill="#fff" stroke="#2e2e2e" stroke-width="0.7"/>
<circle cx="305.5" cy="553.7" r="1.3" fill="#fff" stroke="#2e2e2e" stroke-width="0.7"/>
<line x1="258" y1="576.2" x2="329" y2="576.2" stroke="#2e2e2e" stroke-width="1.03"/>
<line x1="258" y1="577.6" x2="329" y2="577.6" stroke="#2e2e2e" stroke-width="1.03"/>
<circle cx="259" cy="576.9" r="1.5" fill="#2e2e2e"/>
<circle cx="328" cy="576.9" r="1.5" fill="#2e2e2e"/>
<circle cx="282.3" cy="576.9" r="1.3" fill="#fff" stroke="#2e2e2e" stroke-width="0.7"/>
<circle cx="305.5" cy="576.9" r="1.3" fill="#fff" stroke="#2e2e2e" stroke-width="0.7"/>
<line x1="281.4" y1="445" x2="281.4" y2="594" stroke="#2e2e2e" stroke-width="1.12"/>
<line x1="283.2" y1="445" x2="283.2" y2="594" stroke="#2e2e2e" stroke-width="1.12"/>
<rect x="279.8" y="443.9" width="5" height="1.8" rx="0.8" fill="#2e2e2e"/>
<rect x="279.8" y="593.3" width="5" height="1.8" rx="0.8" fill="#2e2e2e"/>
<line x1="305.5" y1="445" x2="305.5" y2="594" stroke="#2e2e2e" stroke-width="1.46"/>
<rect x="303" y="443.9" width="5" height="1.8" rx="0.8" fill="#2e2e2e"/>
<rect x="303" y="593.3" width="5" height="1.8" rx="0.8" fill="#2e2e2e"/>
<rect x="251.7" y="595" width="85.4" height="85" fill="#fff" stroke="#2e2e2e" stroke-width="1.2"/>
<rect x="256.7" y="600.8" width="75" height="74.2" fill="#fff" stroke="#2e2e2e" stroke-width="1.03"/>
<line x1="257" y1="597" x2="332" y2="597" stroke="#2e2e2e" stroke-width="0.86"/>
<line x1="257" y1="598.9" x2="332" y2="598.9" stroke="#2e2e2e" stroke-width="0.86"/>
<line x1="257" y1="676.8" x2="332" y2="676.8" stroke="#2e2e2e" stroke-width="0.86"/>
<line x1="257" y1="678.4" x2="332" y2="678.4" stroke="#2e2e2e" stroke-width="0.86"/>
<line x1="254" y1="600" x2="254" y2="676" stroke="#2e2e2e" stroke-width="1.03"/>
<line x1="255.5" y1="600" x2="255.5" y2="676" stroke="#2e2e2e" stroke-width="0.86"/>
<line x1="333.6" y1="600" x2="333.6" y2="676" stroke="#2e2e2e" stroke-width="1.03"/>
<line x1="256.7" y1="625.8" x2="332" y2="625.8" stroke="#2e2e2e" stroke-width="1.29"/>
<line x1="256.7" y1="650.6" x2="332" y2="650.6" stroke="#2e2e2e" stroke-width="0.95"/>
<line x1="256.7" y1="652.2" x2="332" y2="652.2" stroke="#2e2e2e" stroke-width="0.95"/>
<line x1="281.4" y1="600.8" x2="281.4" y2="675" stroke="#2e2e2e" stroke-width="1.29"/>
<line x1="305.8" y1="600.8" x2="305.8" y2="675" stroke="#2e2e2e" stroke-width="0.95"/>
<line x1="307.5" y1="600.8" x2="307.5" y2="675" stroke="#2e2e2e" stroke-width="0.95"/>
<rect x="278.9" y="601" width="5" height="2" rx="0.9" fill="#2e2e2e"/>
<rect x="278.9" y="673" width="5" height="2" rx="0.9" fill="#2e2e2e"/>
<rect x="304.2" y="601" width="5" height="2" rx="0.9" fill="#2e2e2e"/>
<rect x="304.2" y="673" width="5" height="2" rx="0.9" fill="#2e2e2e"/>
<rect x="279.6" y="623.8" width="3.6" height="4" rx="1" fill="#ddd" stroke="#2e2e2e" stroke-width="1"/>
<rect x="279.6" y="650.4" width="3.6" height="2" fill="#ddd" stroke="#2e2e2e" stroke-width="0.8"/>
<rect x="256.5" y="624" width="3" height="3.6" rx="0.8" fill="#bbb" stroke="#2e2e2e" stroke-width="0.9"/>
<rect x="329.1" y="624" width="3" height="3.6" rx="0.8" fill="#bbb" stroke="#2e2e2e" stroke-width="0.9"/>
<rect x="256.5" y="649.6" width="3" height="3.6" rx="0.8" fill="#bbb" stroke="#2e2e2e" stroke-width="0.9"/>
<rect x="329.1" y="649.6" width="3" height="3.6" rx="0.8" fill="#bbb" stroke="#2e2e2e" stroke-width="0.9"/>
<rect x="248.8" y="605.5" width="2.6" height="13" fill="#ccc" stroke="#2e2e2e" stroke-width="1.03"/>
<rect x="248.8" y="630" width="2.6" height="13.5" fill="#ccc" stroke="#2e2e2e" stroke-width="1.03"/>
<rect x="248.8" y="646" width="2.6" height="24.5" fill="#ccc" stroke="#2e2e2e" stroke-width="1.03"/>
<rect x="251.6" y="595" width="6.4" height="5.6" rx="1" fill="#fff" stroke="#2e2e2e" stroke-width="1.3"/>
<rect x="331.4" y="595" width="6.4" height="5.6" rx="1" fill="#fff" stroke="#2e2e2e" stroke-width="1.3"/>
<rect x="251.6" y="674.6" width="6.4" height="5.6" rx="1" fill="#fff" stroke="#2e2e2e" stroke-width="1.3"/>
<rect x="331.4" y="674.6" width="6.4" height="5.6" rx="1" fill="#fff" stroke="#2e2e2e" stroke-width="1.3"/>
<rect x="337" y="618" width="150" height="39" fill="#fff" stroke="#2e2e2e" stroke-width="0.0"/>
<rect x="331.2" y="614.2" width="156" height="4.3" fill="#fff" stroke="#2e2e2e" stroke-width="1.46"/>
<rect x="331.2" y="656.7" width="156" height="4.5" fill="#fff" stroke="#2e2e2e" stroke-width="1.46"/>
<rect x="358" y="618.9" width="105" height="2" fill="#aaa" stroke="#2e2e2e" stroke-width="0.77"/>
<line x1="338" y1="632.9" x2="486" y2="632.9" stroke="#2e2e2e" stroke-width="1.12"/>
<line x1="338" y1="642.2" x2="486" y2="642.2" stroke="#2e2e2e" stroke-width="1.12"/>
<rect x="339" y="634.7" width="141" height="6.3" fill="#fff" stroke="#2e2e2e" stroke-width="1.2"/>
<rect x="480" y="633.4" width="6.6" height="8.4" fill="#fff" stroke="#2e2e2e" stroke-width="1.03"/>
<line x1="356.9" y1="619" x2="356.9" y2="632.5" stroke="#2e2e2e" stroke-width="1.38"/>
<line x1="356.9" y1="643.5" x2="356.9" y2="656.5" stroke="#2e2e2e" stroke-width="1.38"/>
<line x1="383.1" y1="619" x2="383.1" y2="632.5" stroke="#2e2e2e" stroke-width="1.38"/>
<line x1="383.1" y1="643.5" x2="383.1" y2="656.5" stroke="#2e2e2e" stroke-width="1.38"/>
<line x1="408.9" y1="621" x2="408.9" y2="632.5" stroke="#2e2e2e" stroke-width="1.12"/>
<line x1="411.1" y1="621" x2="411.1" y2="632.5" stroke="#2e2e2e" stroke-width="1.12"/>
<line x1="408.9" y1="643.5" x2="408.9" y2="656.5" stroke="#2e2e2e" stroke-width="1.12"/>
<line x1="411.1" y1="643.5" x2="411.1" y2="656.5" stroke="#2e2e2e" stroke-width="1.12"/>
<line x1="435.9" y1="621" x2="435.9" y2="632.5" stroke="#2e2e2e" stroke-width="1.12"/>
<line x1="438.1" y1="621" x2="438.1" y2="632.5" stroke="#2e2e2e" stroke-width="1.12"/>
<line x1="435.9" y1="643.5" x2="435.9" y2="656.5" stroke="#2e2e2e" stroke-width="1.12"/>
<line x1="438.1" y1="643.5" x2="438.1" y2="656.5" stroke="#2e2e2e" stroke-width="1.12"/>
<line x1="462.4" y1="619" x2="462.4" y2="632.5" stroke="#2e2e2e" stroke-width="1.38"/>
<line x1="462.4" y1="643.5" x2="462.4" y2="656.5" stroke="#2e2e2e" stroke-width="1.38"/>
<polyline points="337,611 341,611.5 347,614.2" fill="none" stroke="#2e2e2e" stroke-width="1.55" />
<polyline points="337,664.6 341,664 347,661.4" fill="none" stroke="#2e2e2e" stroke-width="1.55" />
<polyline points="485,611 480,611.5 474,614.2" fill="none" stroke="#2e2e2e" stroke-width="1.55" />
<polyline points="485,664.6 480,664 474,661.4" fill="none" stroke="#2e2e2e" stroke-width="1.55" />
<circle cx="339.5" cy="611.6" r="1.3" fill="#999" stroke="#2e2e2e" stroke-width="0.9"/>
<circle cx="339.5" cy="664" r="1.3" fill="#999" stroke="#2e2e2e" stroke-width="0.9"/>
<circle cx="483" cy="611.6" r="1.3" fill="#999" stroke="#2e2e2e" stroke-width="0.9"/>
<circle cx="483" cy="664" r="1.3" fill="#999" stroke="#2e2e2e" stroke-width="0.9"/>
<rect x="490.6" y="443" width="47" height="152" fill="#fff" stroke="#2e2e2e" stroke-width="0.0"/>
<rect x="490.6" y="439" width="5.6" height="158" fill="#fff" stroke="#2e2e2e" stroke-width="1.46"/>
<rect x="531.4" y="439" width="6.1" height="158" fill="#fff" stroke="#2e2e2e" stroke-width="1.46"/>
<line x1="493.2" y1="439" x2="493.2" y2="597" stroke="#2e2e2e" stroke-width="1.29"/>
<line x1="534.6" y1="439" x2="534.6" y2="597" stroke="#2e2e2e" stroke-width="1.29"/>
<line x1="497.9" y1="448" x2="497.9" y2="590" stroke="#2e2e2e" stroke-width="1.2"/>
<line x1="529.7" y1="448" x2="529.7" y2="590" stroke="#2e2e2e" stroke-width="1.2"/>
<rect x="497.5" y="443.3" width="28" height="2.6" rx="1.3" fill="#888" stroke="#2e2e2e" stroke-width="1"/>
<line x1="498" y1="454.9" x2="530" y2="454.9" stroke="#2e2e2e" stroke-width="1.2"/>
<line x1="498" y1="456.7" x2="530" y2="456.7" stroke="#2e2e2e" stroke-width="1.2"/>
<line x1="498" y1="471.8" x2="530" y2="471.8" stroke="#2e2e2e" stroke-width="1.2"/>
<line x1="498" y1="473.6" x2="530" y2="473.6" stroke="#2e2e2e" stroke-width="1.2"/>
<line x1="514" y1="445" x2="514" y2="489" stroke="#2e2e2e" stroke-width="1.55"/>
<path d="M497 488 Q499.5 484 505 484 L523 484 Q528.5 484 531 488" fill="none" stroke="#2e2e2e" stroke-width="1.2"/>
<path d="M497 510.5 Q514 518.5 531 510.5" fill="none" stroke="#2e2e2e" stroke-width="1.2"/>
<line x1="497" y1="530.6" x2="531" y2="530.6" stroke="#2e2e2e" stroke-width="1.38"/>
<line x1="497" y1="553" x2="531" y2="553" stroke="#2e2e2e" stroke-width="1.38"/>
<line x1="497" y1="567.6" x2="531" y2="567.6" stroke="#2e2e2e" stroke-width="1.2"/>
<line x1="497" y1="569.6" x2="531" y2="569.6" stroke="#2e2e2e" stroke-width="1.2"/>
<ellipse cx="496.6" cy="489.5" rx="1.7" ry="2.5" fill="#999" stroke="#2e2e2e" stroke-width="1.1"/>
<ellipse cx="530.8" cy="489.5" rx="1.7" ry="2.5" fill="#999" stroke="#2e2e2e" stroke-width="1.1"/>
<ellipse cx="496.6" cy="509" rx="1.7" ry="2.5" fill="#999" stroke="#2e2e2e" stroke-width="1.1"/>
<ellipse cx="530.8" cy="509" rx="1.7" ry="2.5" fill="#999" stroke="#2e2e2e" stroke-width="1.1"/>
<ellipse cx="496.6" cy="527.5" rx="1.7" ry="2.5" fill="#999" stroke="#2e2e2e" stroke-width="1.1"/>
<ellipse cx="530.8" cy="527.5" rx="1.7" ry="2.5" fill="#999" stroke="#2e2e2e" stroke-width="1.1"/>
<ellipse cx="496.6" cy="557" rx="1.7" ry="2.5" fill="#999" stroke="#2e2e2e" stroke-width="1.1"/>
<ellipse cx="530.8" cy="557" rx="1.7" ry="2.5" fill="#999" stroke="#2e2e2e" stroke-width="1.1"/>
<ellipse cx="496.6" cy="575" rx="1.7" ry="2.5" fill="#999" stroke="#2e2e2e" stroke-width="1.1"/>
<ellipse cx="530.8" cy="575" rx="1.7" ry="2.5" fill="#999" stroke="#2e2e2e" stroke-width="1.1"/>
<ellipse cx="514" cy="489.5" rx="2" ry="2.8" fill="#2e2e2e"/>
<polygon points="487.5,680.7 487.5,691.7 495.7,699.2 505.7,701.7 523.7,701.7 533.7,698.7 541.9,691.7 541.9,680.7" fill="#fff" stroke="#2e2e2e" stroke-width="1.55" />
<polyline points="489.5,680.7 489.5,690.7 496.7,697.3 506.1,699.7 523.3,699.7 532.7,696.9 539.9,690.7 539.9,680.7" fill="none" stroke="#2e2e2e" stroke-width="1.2" />
<rect x="512.3" y="701.5" width="2.4" height="16.8" fill="#aaa" stroke="#2e2e2e" stroke-width="1.03"/>
<line x1="509.5" y1="701.4" x2="517.5" y2="701.4" stroke="#2e2e2e" stroke-width="1.72"/>
<rect x="485.2" y="594.3" width="58.3" height="86.4" fill="#fff" stroke="#2e2e2e" stroke-width="1.46"/>
<line x1="490.6" y1="601" x2="537.6" y2="601" stroke="#2e2e2e" stroke-width="1.38"/>
<line x1="490.6" y1="605.2" x2="537.6" y2="605.2" stroke="#2e2e2e" stroke-width="1.72"/>
<line x1="490.6" y1="611.9" x2="537.6" y2="611.9" stroke="#2e2e2e" stroke-width="1.72"/>
<line x1="490.6" y1="618.6" x2="537.6" y2="618.6" stroke="#2e2e2e" stroke-width="1.72"/>
<line x1="490.6" y1="625.3" x2="537.6" y2="625.3" stroke="#2e2e2e" stroke-width="1.72"/>
<line x1="490.6" y1="632" x2="537.6" y2="632" stroke="#2e2e2e" stroke-width="1.72"/>
<line x1="490.6" y1="638.7" x2="537.6" y2="638.7" stroke="#2e2e2e" stroke-width="1.72"/>
<line x1="490.6" y1="645.4" x2="537.6" y2="645.4" stroke="#2e2e2e" stroke-width="1.72"/>
<line x1="490.6" y1="652.1" x2="537.6" y2="652.1" stroke="#2e2e2e" stroke-width="1.72"/>
<line x1="490.6" y1="658.8" x2="537.6" y2="658.8" stroke="#2e2e2e" stroke-width="1.72"/>
<line x1="490.6" y1="665.5" x2="537.6" y2="665.5" stroke="#2e2e2e" stroke-width="1.72"/>
<line x1="490.6" y1="675.6" x2="537.6" y2="675.6" stroke="#2e2e2e" stroke-width="1.38"/>
<rect x="499" y="676.3" width="31" height="2.6" fill="#fff" stroke="#2e2e2e" stroke-width="1.2"/>
<line x1="496" y1="637" x2="533" y2="637" stroke="#2e2e2e" stroke-width="1.2"/>
<rect x="485.2" y="594.3" width="5.4" height="86.4" fill="#fff" stroke="#2e2e2e" stroke-width="1.46"/>
<rect x="537.6" y="594.3" width="5.9" height="86.4" fill="#fff" stroke="#2e2e2e" stroke-width="1.46"/>
<line x1="540.4" y1="602" x2="540.4" y2="674" stroke="#2e2e2e" stroke-width="1.2"/>
<rect x="485" y="594.3" width="5.8" height="5.8" fill="#fff" stroke="#2e2e2e" stroke-width="1.46"/>
<rect x="537.8" y="594.3" width="5.8" height="5.8" fill="#fff" stroke="#2e2e2e" stroke-width="1.46"/>
<rect x="485" y="675" width="5.8" height="5.8" fill="#fff" stroke="#2e2e2e" stroke-width="1.46"/>
<rect x="537.8" y="675" width="5.8" height="5.8" fill="#fff" stroke="#2e2e2e" stroke-width="1.46"/>
<rect x="543.5" y="600.5" width="152" height="72" fill="#fff" stroke="#2e2e2e" stroke-width="1.46"/>
<line x1="543.5" y1="602.6" x2="695.5" y2="602.6" stroke="#2e2e2e" stroke-width="1.2"/>
<line x1="543.5" y1="605.2" x2="695.5" y2="605.2" stroke="#2e2e2e" stroke-width="1.55"/>
<line x1="543.5" y1="669.8" x2="695.5" y2="669.8" stroke="#2e2e2e" stroke-width="1.55"/>
<line x1="546.5" y1="605" x2="546.5" y2="670" stroke="#2e2e2e" stroke-width="1.2"/>
<line x1="693" y1="605" x2="693" y2="670" stroke="#2e2e2e" stroke-width="1.2"/>
<path d="M558.4 605.2 L560.6 611 L560.6 664 L558.4 669.8" fill="none" stroke="#2e2e2e" stroke-width="1.35"/>
<path d="M561 605.2 L563.2 611 L563.2 664 L561 669.8" fill="none" stroke="#2e2e2e" stroke-width="1.35"/>
<path d="M579 605.2 L579 611 L579 664 L579 669.8" fill="none" stroke="#2e2e2e" stroke-width="1.35"/>
<path d="M581.6 605.2 L581.6 611 L581.6 664 L581.6 669.8" fill="none" stroke="#2e2e2e" stroke-width="1.35"/>
<path d="M596.1 605.2 L598.3 611 L598.3 664 L596.1 669.8" fill="none" stroke="#2e2e2e" stroke-width="1.35"/>
<path d="M598.7 605.2 L600.9 611 L600.9 664 L598.7 669.8" fill="none" stroke="#2e2e2e" stroke-width="1.35"/>
<path d="M617.6 605.2 L617.6 611 L617.6 664 L617.6 669.8" fill="none" stroke="#2e2e2e" stroke-width="1.35"/>
<path d="M620.2 605.2 L620.2 611 L620.2 664 L620.2 669.8" fill="none" stroke="#2e2e2e" stroke-width="1.35"/>
<path d="M637.7 605.2 L637.7 611 L637.7 664 L637.7 669.8" fill="none" stroke="#2e2e2e" stroke-width="1.35"/>
<path d="M640.3 605.2 L640.3 611 L640.3 664 L640.3 669.8" fill="none" stroke="#2e2e2e" stroke-width="1.35"/>
<path d="M658.4 605.2 L656.2 611 L656.2 664 L658.4 669.8" fill="none" stroke="#2e2e2e" stroke-width="1.35"/>
<path d="M661 605.2 L658.8 611 L658.8 664 L661 669.8" fill="none" stroke="#2e2e2e" stroke-width="1.35"/>
<path d="M676.9 605.2 L674.7 611 L674.7 664 L676.9 669.8" fill="none" stroke="#2e2e2e" stroke-width="1.35"/>
<path d="M679.5 605.2 L677.3 611 L677.3 664 L679.5 669.8" fill="none" stroke="#2e2e2e" stroke-width="1.35"/>
<rect x="693.7" y="593.7" width="86" height="86" fill="#fff" stroke="#2e2e2e" stroke-width="1.2"/>
<rect x="701" y="599.6" width="72.7" height="75.6" fill="#fff" stroke="#2e2e2e" stroke-width="0.95"/>
<line x1="701" y1="605.2" x2="773.7" y2="605.2" stroke="#2e2e2e" stroke-width="1.89"/>
<line x1="701" y1="611.9" x2="773.7" y2="611.9" stroke="#2e2e2e" stroke-width="1.89"/>
<line x1="701" y1="618.5" x2="773.7" y2="618.5" stroke="#2e2e2e" stroke-width="1.89"/>
<line x1="701" y1="625.1" x2="773.7" y2="625.1" stroke="#2e2e2e" stroke-width="1.89"/>
<line x1="701" y1="631.8" x2="773.7" y2="631.8" stroke="#2e2e2e" stroke-width="1.89"/>
<line x1="701" y1="638.4" x2="773.7" y2="638.4" stroke="#2e2e2e" stroke-width="1.89"/>
<line x1="701" y1="645.1" x2="773.7" y2="645.1" stroke="#2e2e2e" stroke-width="1.89"/>
<line x1="701" y1="651.7" x2="773.7" y2="651.7" stroke="#2e2e2e" stroke-width="1.89"/>
<line x1="701" y1="658.4" x2="773.7" y2="658.4" stroke="#2e2e2e" stroke-width="1.89"/>
<line x1="701" y1="665" x2="773.7" y2="665" stroke="#2e2e2e" stroke-width="1.89"/>
<line x1="701" y1="671.7" x2="773.7" y2="671.7" stroke="#2e2e2e" stroke-width="1.89"/>
<line x1="701" y1="597.6" x2="774" y2="597.6" stroke="#2e2e2e" stroke-width="0.77"/>
<line x1="701" y1="677.2" x2="774" y2="677.2" stroke="#2e2e2e" stroke-width="0.77"/>
<rect x="696" y="593.7" width="5" height="86" fill="#fff" stroke="#2e2e2e" stroke-width="1.46"/>
<rect x="773.7" y="593.7" width="6" height="86" fill="#fff" stroke="#2e2e2e" stroke-width="1.46"/>
<rect x="693.6" y="593.6" width="6" height="6" fill="#fff" stroke="#2e2e2e" stroke-width="1.46"/>
<rect x="773.8" y="593.6" width="6" height="6" fill="#fff" stroke="#2e2e2e" stroke-width="1.46"/>
<rect x="693.6" y="673.8" width="6" height="6" fill="#fff" stroke="#2e2e2e" stroke-width="1.46"/>
<rect x="773.8" y="673.8" width="6" height="6" fill="#fff" stroke="#2e2e2e" stroke-width="1.46"/>
<path d="M779.6 613.9 H845.3 Q846.8 613.9 846.8 615.4 V660.5 Q846.8 662 845.3 662 H779.6 Z" fill="#fff" stroke="#2e2e2e" stroke-width="1.5"/>
<line x1="779.6" y1="616.6" x2="840" y2="616.6" stroke="#2e2e2e" stroke-width="1.2"/>
<line x1="779.6" y1="659.3" x2="840" y2="659.3" stroke="#2e2e2e" stroke-width="1.2"/>
<line x1="783.4" y1="616.6" x2="783.4" y2="659.3" stroke="#2e2e2e" stroke-width="1.2"/>
<line x1="790.6" y1="616.6" x2="790.6" y2="659.3" stroke="#2e2e2e" stroke-width="1.2"/>
<line x1="794.7" y1="616.6" x2="794.7" y2="659.3" stroke="#2e2e2e" stroke-width="1.2"/>
<line x1="801.5" y1="616.6" x2="801.5" y2="659.3" stroke="#2e2e2e" stroke-width="1.2"/>
<line x1="806.1" y1="616.6" x2="806.1" y2="659.3" stroke="#2e2e2e" stroke-width="1.2"/>
<line x1="812.8" y1="616.6" x2="812.8" y2="659.3" stroke="#2e2e2e" stroke-width="1.2"/>
<line x1="817.4" y1="616.6" x2="817.4" y2="659.3" stroke="#2e2e2e" stroke-width="1.2"/>
<line x1="822" y1="616.6" x2="822" y2="659.3" stroke="#2e2e2e" stroke-width="1.2"/>
<line x1="826.6" y1="616.6" x2="826.6" y2="659.3" stroke="#2e2e2e" stroke-width="1.2"/>
<line x1="827.9" y1="616.6" x2="827.9" y2="659.3" stroke="#2e2e2e" stroke-width="1.2"/>
<line x1="832.9" y1="616.6" x2="832.9" y2="659.3" stroke="#2e2e2e" stroke-width="1.2"/>
<line x1="838" y1="616.6" x2="838" y2="659.3" stroke="#2e2e2e" stroke-width="1.2"/>
<line x1="779.6" y1="636.9" x2="841.5" y2="636.9" stroke="#2e2e2e" stroke-width="1.72"/>
<rect x="839.8" y="614.6" width="6.4" height="46.8" fill="#9a9a9a" stroke="#2e2e2e" stroke-width="1.03"/>
<line x1="841.9" y1="615" x2="841.9" y2="661" stroke="#2e2e2e" stroke-width="1.03"/>
<line x1="844.1" y1="615" x2="844.1" y2="661" stroke="#2e2e2e" stroke-width="1.03"/>
<rect x="834.2" y="633.6" width="2.4" height="2.2" fill="#2e2e2e"/>
<rect x="834.2" y="638.6" width="2.4" height="2.2" fill="#2e2e2e"/>
<rect x="734.4" y="679.7" width="6.4" height="65.1" fill="#fff" stroke="#2e2e2e" stroke-width="1.46"/>
<line x1="734.4" y1="685.8" x2="740.8" y2="685.8" stroke="#2e2e2e" stroke-width="1.03"/>
<rect x="740.8" y="690.3" width="7.4" height="3.2" rx="1.5" fill="#666" stroke="#2e2e2e" stroke-width="1"/>
<rect x="740.8" y="719.3" width="7.4" height="3.2" rx="1.5" fill="#666" stroke="#2e2e2e" stroke-width="1"/>
<rect x="740.8" y="737.3" width="7.4" height="3.2" rx="1.5" fill="#666" stroke="#2e2e2e" stroke-width="1"/>
<rect x="727" y="705.8" width="7.4" height="3.2" rx="1.5" fill="#666" stroke="#2e2e2e" stroke-width="1"/>
<rect x="727" y="729.9" width="7.4" height="3.2" rx="1.5" fill="#666" stroke="#2e2e2e" stroke-width="1"/>
<rect x="727" y="739.7" width="7.4" height="3.2" rx="1.5" fill="#666" stroke="#2e2e2e" stroke-width="1"/>
<line x1="747.8" y1="735.2" x2="747.8" y2="739" stroke="#2e2e2e" stroke-width="1.55"/>
<line x1="727.6" y1="728" x2="727.6" y2="731.5" stroke="#2e2e2e" stroke-width="1.55"/>
<rect x="642.3" y="515.7" width="52.5" height="6.6" fill="#8c8c8c" stroke="#2e2e2e" stroke-width="1.29"/>
<line x1="642.3" y1="517.6" x2="694.5" y2="517.6" stroke="#2e2e2e" stroke-width="0.86"/>
<line x1="642.3" y1="520.6" x2="694.5" y2="520.6" stroke="#2e2e2e" stroke-width="0.86"/>
<polygon points="642.3,516.2 639,516.6 637.3,518.4 638,520.4 640.6,522 642.3,522.2" fill="#fff" stroke="#2e2e2e" stroke-width="1.2" />
<rect x="693.4" y="514.4" width="2.6" height="9.6" fill="#aaa" stroke="#2e2e2e" stroke-width="1.03"/>
<line x1="696.2" y1="515.5" x2="700.8" y2="515.5" stroke="#2e2e2e" stroke-width="1.03"/>
<line x1="696.2" y1="522.5" x2="700.8" y2="522.5" stroke="#2e2e2e" stroke-width="1.03"/>
<line x1="186.8" y1="64.6" x2="186.8" y2="378.5" stroke="#2e2e2e" stroke-width="1.5"/>
<line x1="186.8" y1="67.9" x2="941.2" y2="67.9" stroke="#2e2e2e" stroke-width="1.5"/>
<line x1="941.2" y1="64.6" x2="941.2" y2="147.5" stroke="#2e2e2e" stroke-width="1.5"/>
<polygon points="187.5,67.9 195,65.8 195,70" fill="none" stroke="#2e2e2e" stroke-width="1.0" stroke-linejoin="round"/>
<polygon points="940.5,67.9 933,70 933,65.8" fill="none" stroke="#2e2e2e" stroke-width="1.0" stroke-linejoin="round"/>
<line x1="27.9" y1="118" x2="912.2" y2="118" stroke="#2e2e2e" stroke-width="1.5"/>
<line x1="31.6" y1="118" x2="31.6" y2="361" stroke="#2e2e2e" stroke-width="1.5"/>
<line x1="31.6" y1="492" x2="31.6" y2="745.5" stroke="#2e2e2e" stroke-width="1.5"/>
<line x1="27.9" y1="745.5" x2="735" y2="745.5" stroke="#2e2e2e" stroke-width="1.5"/>
<polygon points="31.6,118.6 33.7,126.1 29.5,126.1" fill="none" stroke="#2e2e2e" stroke-width="1.0" stroke-linejoin="round"/>
<polygon points="31.6,744.9 29.5,737.4 33.7,737.4" fill="none" stroke="#2e2e2e" stroke-width="1.0" stroke-linejoin="round"/>
<line x1="97.4" y1="419.5" x2="97.4" y2="894" stroke="#2e2e2e" stroke-width="1.5"/>
<line x1="1049.9" y1="103" x2="1049.9" y2="894" stroke="#2e2e2e" stroke-width="1.5"/>
<line x1="97.4" y1="890.6" x2="1049.9" y2="890.6" stroke="#2e2e2e" stroke-width="1.5"/>
<polygon points="98.1,890.6 105.6,888.5 105.6,892.7" fill="none" stroke="#2e2e2e" stroke-width="1.0" stroke-linejoin="round"/>
<polygon points="1049.2,890.6 1041.7,892.7 1041.7,888.5" fill="none" stroke="#2e2e2e" stroke-width="1.0" stroke-linejoin="round"/>
<line x1="957" y1="0.9" x2="1163" y2="0.9" stroke="#2e2e2e" stroke-width="1.5"/>
<line x1="746" y1="834" x2="1163" y2="834" stroke="#2e2e2e" stroke-width="1.5"/>
<line x1="1157.4" y1="1" x2="1157.4" y2="334" stroke="#2e2e2e" stroke-width="1.5"/>
<line x1="1157.4" y1="496" x2="1157.4" y2="834" stroke="#2e2e2e" stroke-width="1.5"/>
<polygon points="1157.4,1.6 1159.5,9.1 1155.3,9.1" fill="none" stroke="#2e2e2e" stroke-width="1.0" stroke-linejoin="round"/>
<polygon points="1157.4,833.4 1155.3,825.9 1159.5,825.9" fill="none" stroke="#2e2e2e" stroke-width="1.0" stroke-linejoin="round"/>
</svg>
<div class="dim" id="t1" style="left:529.4px;top:30.7px;letter-spacing:0.5px;">11450</div>
<div class="dim" id="t2" style="left:-1.2px;top:415.2px;">9510</div>
<div class="dim" id="t3" style="left:1116.6px;top:398.8px;letter-spacing:0.1px;">12630</div>
<div class="dim" id="t4" style="left:530.8px;top:854.2px;letter-spacing:0.7px;">14460</div>
</body>
</html>
